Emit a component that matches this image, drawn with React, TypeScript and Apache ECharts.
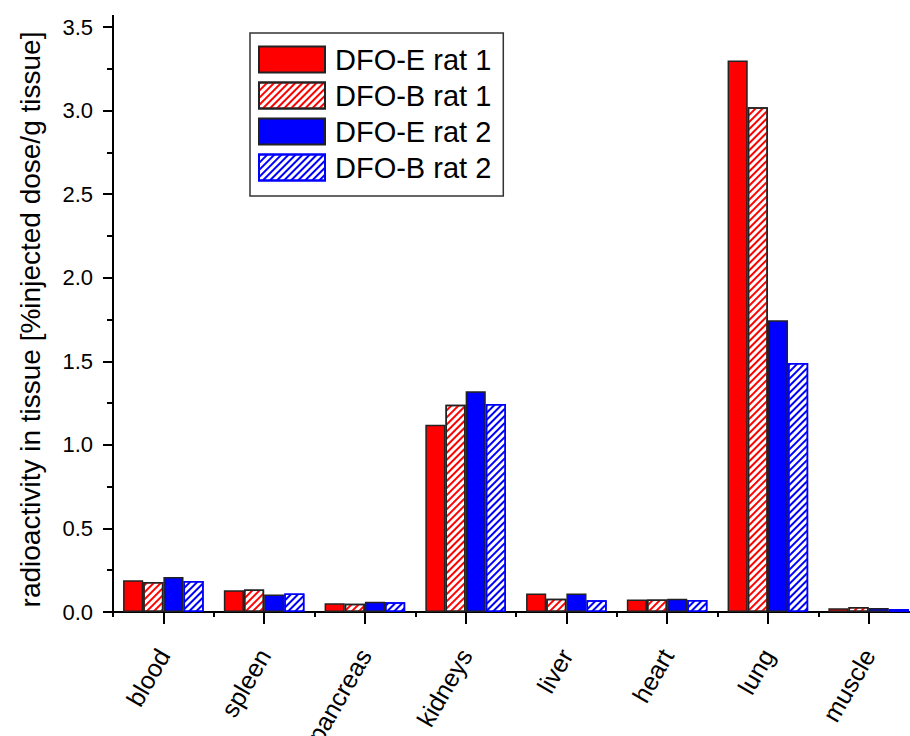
import React, { useEffect, useRef } from "react";
import * as echarts from "echarts";

const categories = ["blood", "spleen", "pancreas", "kidneys", "liver", "heart", "lung", "muscle"];
const seriesNames = ["DFO-E rat 1", "DFO-B rat 1", "DFO-E rat 2", "DFO-B rat 2"];
const dfoERat1 = [0.19, 0.13, 0.052, 1.12, 0.11, 0.075, 3.3, 0.022];
const dfoBRat1 = [0.18, 0.135, 0.05, 1.24, 0.08, 0.075, 3.02, 0.03];
const dfoERat2 = [0.21, 0.105, 0.062, 1.32, 0.11, 0.08, 1.745, 0.024];
const dfoBRat2 = [0.185, 0.11, 0.058, 1.245, 0.07, 0.072, 1.49, 0.018];
const yTicks = { min: 0, max: 3.5, interval: 0.5 };

const FONT = "Arial, 'Liberation Sans', sans-serif";
const RED = "#ff0000";
const BLUE = "#0000ff";

const hatch = (color: string) => ({
  symbol: "rect",
  symbolSize: 1,
  color,
  backgroundColor: "#ffffff",
  dashArrayX: [1, 0],
  dashArrayY: [2, 2.5],
  rotation: -Math.PI / 4,
});

export default function App() {
  const ref = useRef<HTMLDivElement>(null);
  useEffect(() => {
    if (!ref.current) return;
    const chart = echarts.init(ref.current, undefined, { renderer: "svg" });
    const barBase = {
      type: "bar" as const,
      xAxisIndex: 0,
      yAxisIndex: 0,
      barGap: "0%",
      barCategoryGap: "20%",
    };
    chart.setOption({
      animation: false,
      backgroundColor: "#ffffff",
      textStyle: { fontFamily: FONT },
      grid: { left: 113, right: -9, top: 27, bottom: 124, containLabel: false, outerBoundsMode: "none" },
      legend: {
        orient: "vertical",
        left: 250,
        top: 33,
        icon: "rect",
        itemWidth: 66,
        itemHeight: 26,
        itemGap: 7,
        padding: [12, 12, 14, 8],
        borderColor: "#333333",
        borderWidth: 1.5,
        data: seriesNames,
        textStyle: { fontSize: 29, color: "#000", fontFamily: FONT, padding: [0, 0, 0, 5], lineHeight: 29 },
      },
      xAxis: [
        {
          type: "category",
          data: categories,
          position: "bottom",
          axisLine: { show: true, lineStyle: { color: "#000", width: 2 } },
          axisTick: { show: true, length: 5, lineStyle: { color: "#000", width: 2 } },
          axisLabel: {
            rotate: 60,
            fontSize: 25,
            color: "#000",
            fontFamily: FONT,
            margin: 39,
            interval: 0,
          },
          splitLine: { show: false },
        },
        {
          type: "category",
          data: categories,
          position: "bottom",
          offset: 0,
          axisLine: { show: false },
          axisTick: { show: true, alignWithLabel: true, length: 12, lineStyle: { color: "#000", width: 2 } },
          axisLabel: { show: false },
          splitLine: { show: false },
        },
      ],
      yAxis: {
        type: "value",
        min: yTicks.min,
        max: yTicks.max,
        interval: yTicks.interval,
        name: "radioactivity in tissue [%injected dose/g tissue]",
        nameLocation: "middle",
        nameGap: 69,
        nameTextStyle: { fontSize: 28, color: "#000", fontFamily: FONT },
        axisLine: { show: true, lineStyle: { color: "#000", width: 2 } },
        axisTick: { show: true, length: 10, lineStyle: { color: "#000", width: 2 } },
        minorTick: { show: true, splitNumber: 2, length: 6, lineStyle: { color: "#000", width: 2 } },
        axisLabel: {
          fontSize: 22,
          color: "#000",
          fontFamily: FONT,
          margin: 20,
          formatter: (v: number) => v.toFixed(1),
        },
        splitLine: { show: false },
      },
      graphic: [
        {
          type: "line",
          shape: { x1: 113, y1: 15, x2: 113, y2: 28 },
          style: { stroke: "#000", lineWidth: 2 },
        },
      ],
      series: [
        {
          ...barBase,
          name: seriesNames[0],
          data: dfoERat1,
          itemStyle: { color: RED, borderColor: "#222", borderWidth: 1.5 },
        },
        {
          ...barBase,
          name: seriesNames[1],
          data: dfoBRat1,
          itemStyle: { color: "#ffffff", borderColor: "#222", borderWidth: 1.5, decal: hatch(RED) },
        },
        {
          ...barBase,
          name: seriesNames[2],
          data: dfoERat2,
          itemStyle: { color: BLUE, borderColor: "#222", borderWidth: 1.5 },
        },
        {
          ...barBase,
          name: seriesNames[3],
          data: dfoBRat2,
          itemStyle: { color: "#ffffff", borderColor: BLUE, borderWidth: 1.5, decal: hatch(BLUE) },
        },
      ],
    });
    return () => chart.dispose();
  }, []);
  return (
    <div style={{ position: "fixed", left: 0, top: 0, width: 910, height: 736, overflow: "hidden", background: "#fff" }}>
      <div ref={ref} style={{ width: 910, height: 736 }} />
    </div>
  );
}
